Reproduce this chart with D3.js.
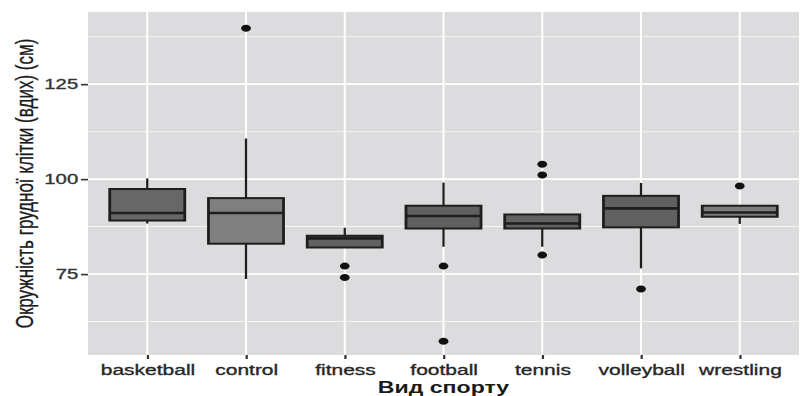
<!DOCTYPE html>
<html>
<head>
<meta charset="utf-8">
<script src="https://cdn.jsdelivr.net/npm/d3@7"></script>
<style>
  html, body { margin: 0; padding: 0; background: #ffffff; }
  svg { display: block; }
  text { font-family: "Liberation Sans", Arial, sans-serif; }
</style>
</head>
<body>
<script>
// Chest circumference (inhale) by sport: box-plot summaries
const categories = ["basketball", "control", "fitness", "football", "tennis", "volleyball", "wrestling"];
const whiskerLow  = [88.3, 73.7, 82.0, 82.2, 82.2, 76.5, 88.2];
const q1          = [89.1, 83.0, 82.0, 87.0, 87.0, 87.3, 90.1];
const medians     = [91.1, 91.1, 84.4, 90.3, 88.3, 92.3, 91.2];
const q3          = [97.4, 95.0, 85.1, 93.0, 90.7, 95.6, 93.0];
const whiskerHigh = [100.2, 110.7, 87.2, 99.1, 91.0, 99.0, 93.0];
const outliers = [
  [],
  [139.7],
  [77.1, 74.1],
  [77.1, 57.3],
  [103.9, 101.1, 80.0],
  [71.1],
  [98.2]
];
const boxFills = ["#676767", "#808080", "#616161", "#606060", "#616161", "#606060", "#7c7c7c"];
const yTicks = [75, 100, 125];
const yMinor = [62.5, 87.5, 112.5, 137.5];
const yTitle = "Окружність  грудної клітки (вдих) (см)";
const xTitle = "Вид спорту";

const width = 803, height = 396;
// the whole plot is drawn in a narrower frame and stretched horizontally
const SX = 1.4;
const panel = { left: 88 / SX, right: 799 / SX, top: 12, bottom: 355 };

const svg = d3.select("body").append("svg")
  .attr("width", width).attr("height", height);
const g = svg.append("g").attr("transform", `scale(${SX},1)`);

const x = d3.scalePoint().domain(categories)
  .range([panel.left, panel.right]).padding(0.6);
const y = d3.scaleLinear().domain([53.7, 144.0])
  .range([panel.bottom, panel.top]);
const boxW = x.step() * 0.76;

// panel background
g.append("rect")
  .attr("x", panel.left).attr("y", panel.top)
  .attr("width", panel.right - panel.left).attr("height", panel.bottom - panel.top)
  .attr("fill", "#dcdcde");

// minor gridlines
g.selectAll(".minor").data(yMinor).join("line")
  .attr("x1", panel.left).attr("x2", panel.right)
  .attr("y1", d => y(d)).attr("y2", d => y(d))
  .attr("stroke", "#f4f4f4").attr("stroke-width", 1);

// major gridlines
g.selectAll(".hmajor").data(yTicks).join("line")
  .attr("x1", panel.left).attr("x2", panel.right)
  .attr("y1", d => y(d)).attr("y2", d => y(d))
  .attr("stroke", "#ffffff").attr("stroke-width", 1.8);
g.selectAll(".vmajor").data(categories).join("line")
  .attr("x1", d => x(d)).attr("x2", d => x(d))
  .attr("y1", panel.top).attr("y2", panel.bottom)
  .attr("stroke", "#ffffff").attr("stroke-width", 1.4);

// boxes
const boxes = g.selectAll(".box").data(categories).join("g");
boxes.append("line")
  .attr("x1", d => x(d)).attr("x2", d => x(d))
  .attr("y1", (d, i) => y(q3[i])).attr("y2", (d, i) => y(whiskerHigh[i]))
  .attr("stroke", "#1e1e1e").attr("stroke-width", 1.6);
boxes.append("line")
  .attr("x1", d => x(d)).attr("x2", d => x(d))
  .attr("y1", (d, i) => y(q1[i])).attr("y2", (d, i) => y(whiskerLow[i]))
  .attr("stroke", "#1e1e1e").attr("stroke-width", 1.6);
boxes.append("rect")
  .attr("x", d => x(d) - boxW / 2).attr("width", boxW)
  .attr("y", (d, i) => y(q3[i]))
  .attr("height", (d, i) => y(q1[i]) - y(q3[i]))
  .attr("fill", (d, i) => boxFills[i])
  .attr("stroke", "#1e1e1e").attr("stroke-width", 2);
boxes.append("line")
  .attr("x1", d => x(d) - boxW / 2).attr("x2", d => x(d) + boxW / 2)
  .attr("y1", (d, i) => y(medians[i])).attr("y2", (d, i) => y(medians[i]))
  .attr("stroke", "#1e1e1e").attr("stroke-width", 2.6);

// outliers
const outPts = outliers.flatMap((vals, i) => vals.map(v => ({ c: categories[i], v })));
g.selectAll(".out").data(outPts).join("circle")
  .attr("cx", d => x(d.c)).attr("cy", d => y(d.v))
  .attr("r", 3.5).attr("fill", "#111111");

// axes
const yAxis = g.append("g")
  .attr("transform", `translate(${panel.left},0)`)
  .call(d3.axisLeft(y).tickValues(yTicks).tickSize(5).tickPadding(2));
yAxis.select(".domain").remove();
yAxis.selectAll(".tick line").attr("stroke", "#333333").attr("stroke-width", 1.6);
yAxis.selectAll(".tick text")
  .attr("fill", "#333333").attr("stroke", "#333333").attr("stroke-width", 0.35)
  .style("font-size", "14.5px")
  .style("font-family", "'Liberation Sans', Arial, sans-serif");

const xAxis = g.append("g")
  .attr("transform", `translate(0,${panel.bottom})`)
  .call(d3.axisBottom(x).tickSize(4).tickPadding(5));
xAxis.select(".domain").remove();
xAxis.selectAll(".tick line").attr("stroke", "#333333").attr("stroke-width", 1.6);
xAxis.selectAll(".tick text")
  .attr("fill", "#262626").attr("stroke", "#262626").attr("stroke-width", 0.35)
  .style("font-size", "15px")
  .style("font-family", "'Liberation Sans', Arial, sans-serif");

// axis titles
g.append("text")
  .attr("transform", `translate(${33 / SX},${(panel.top + panel.bottom) / 2}) rotate(-90)`)
  .attr("text-anchor", "middle")
  .attr("fill", "#1a1a1a").attr("stroke", "#1a1a1a").attr("stroke-width", 0.25)
  .style("font-size", "17px")
  .text(yTitle);
g.append("text")
  .attr("x", (panel.left + panel.right) / 2).attr("y", 393)
  .attr("text-anchor", "middle")
  .attr("fill", "#1a1a1a").style("font-size", "16.5px").style("font-weight", "bold")
  .text(xTitle);
</script>
</body>
</html>
